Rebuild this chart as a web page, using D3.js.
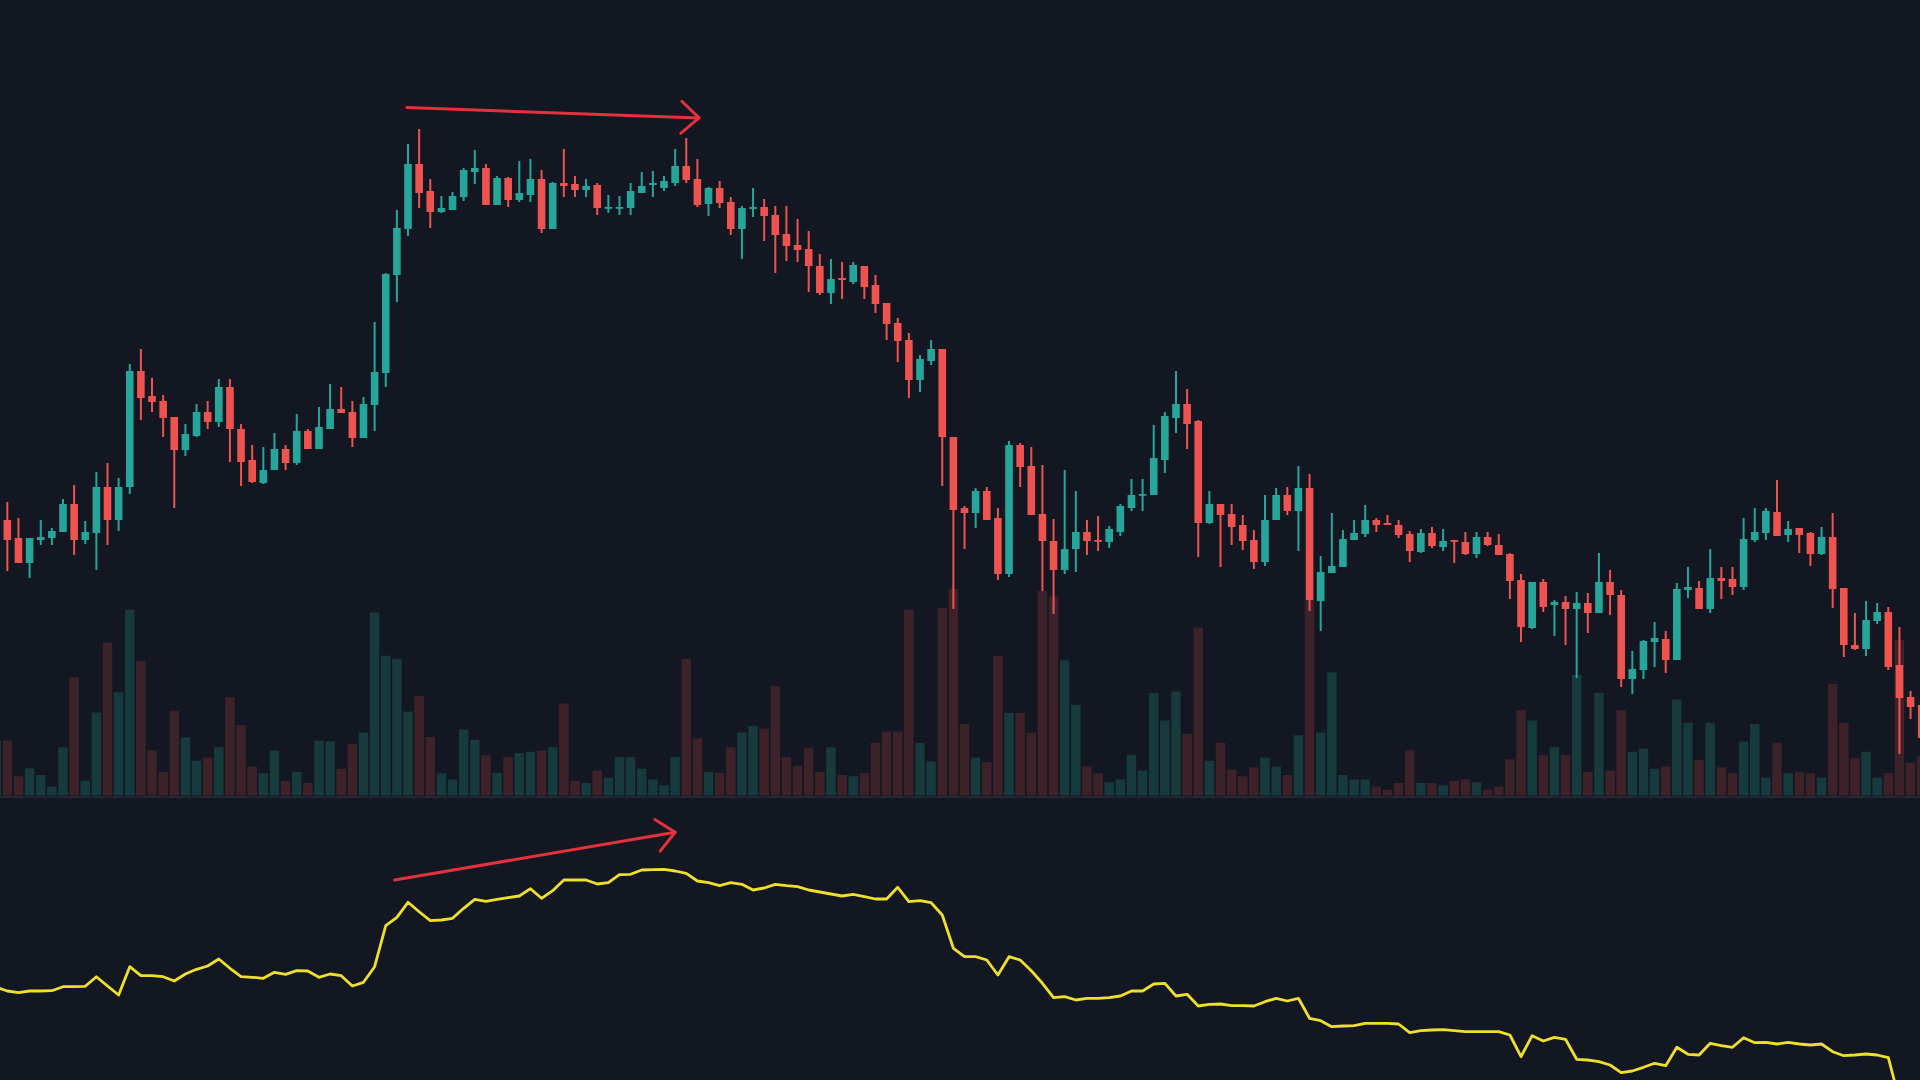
<!DOCTYPE html>
<html><head><meta charset="utf-8">
<script src="https://cdn.jsdelivr.net/npm/d3@7"></script>
<style>html,body{margin:0;padding:0;background:#131722;overflow:hidden}</style>
</head><body>
<svg id="chart" width="1920" height="1080"></svg>
<script>
// ---- data (bar index = categories) ----
const barIndex = d3.range(174);
const open = [
520,560,542,517,540,542,548,576,540,547,
593,560,593,709,684,679,663,630,644,668,
658,693,651,620,597,610,631,617,649,631,
651,671,668,642,675,707,805,851,916,889,
868,870,883,908,912,875,902,880,885,901,
851,897,896,890,895,872,872,872,887,895,
892,897,914,901,876,892,878,851,871,873,
865,846,835,831,814,787,802,798,814,795,
777,757,740,700,719,731,643,572,567,589,
562,506,635,614,566,539,510,531,548,540,
538,548,572,585,585,620,662,676,659,557,
576,566,555,540,518,560,585,569,592,479,
507,513,540,546,560,557,555,546,528,547,
533,540,538,526,543,535,526,500,452,498,
475,478,471,477,467,498,485,401,410,438,
441,420,490,492,471,502,501,493,540,547,
568,545,552,547,526,543,492,435,431,459,
468,415,383,375];
const high = [
565,578,562,542,560,552,581,595,559,608,
617,602,716,731,702,685,663,656,676,679,
701,701,656,635,633,647,635,666,651,673,
696,693,679,683,758,807,870,936,951,901,
884,888,912,930,916,904,903,919,921,910,
898,931,904,901,897,885,884,897,908,909,
904,931,942,921,893,899,883,874,892,881,
874,874,861,849,826,821,818,818,814,805,
777,762,747,725,740,731,643,574,592,593,
572,639,637,633,615,561,610,589,560,564,
554,576,601,601,655,668,709,691,660,589,
576,576,565,550,585,592,593,614,606,524,
567,550,560,575,562,565,560,549,551,553,
551,540,548,548,548,546,527,506,498,501,
480,484,488,487,527,510,490,429,440,458,
449,497,513,499,531,513,513,562,572,572,
600,559,552,548,553,567,492,467,479,477,
473,453,389,380];
const low = [
515,509,517,502,535,535,548,525,536,510,
535,549,586,660,668,643,572,624,643,651,
653,618,594,597,596,610,610,615,631,631,
651,667,633,642,649,693,778,844,872,852,
867,870,879,896,875,875,873,878,878,847,
851,883,883,883,865,867,865,865,887,883,
889,894,897,873,864,872,845,821,863,839,
807,819,818,788,785,776,781,796,781,767,
740,718,682,688,715,594,471,531,552,560,
500,503,593,565,489,466,506,508,525,529,
532,544,569,569,585,607,647,631,523,556,
513,535,530,511,514,560,565,529,469,449,
507,513,540,543,548,555,542,518,527,532,
529,517,525,522,534,525,481,438,451,468,
444,435,402,447,467,465,393,386,401,413,
407,420,482,471,467,481,485,490,538,540,
544,538,527,514,525,472,423,430,424,456,
410,326,361,335];
const close = [
559,540,517,542,543,549,576,540,548,593,
560,593,709,682,678,662,630,646,668,658,
693,651,618,598,610,631,617,649,631,653,
671,667,642,676,708,806,852,916,887,868,
872,884,910,912,875,902,880,887,901,851,
897,894,890,894,872,873,873,889,894,897,
899,914,900,875,892,877,851,872,873,864,
845,834,830,814,787,801,800,815,793,776,
756,739,700,721,731,643,570,567,589,560,
506,635,613,565,539,510,531,548,539,539,
551,574,585,586,622,664,676,656,557,576,
565,553,539,518,560,585,569,592,480,508,
514,541,547,560,555,555,545,529,547,534,
539,539,526,543,535,525,499,453,498,473,
478,471,477,467,498,485,401,411,439,442,
420,491,493,471,502,499,493,541,548,569,
544,551,545,526,543,491,435,431,460,468,
413,382,373,342];
const volume = [
121,123,43,61,46,20,108,265,33,186,
343,231,416,301,101,53,190,130,78,85,
108,220,158,65,50,101,33,53,28,123,
121,60,115,141,410,313,306,188,223,131,
50,36,148,125,90,51,86,95,98,101,
108,206,33,28,56,40,86,86,60,36,
23,86,306,128,53,50,108,141,156,150,
245,86,66,106,53,108,46,43,50,118,
143,143,416,118,76,420,463,160,85,75,
313,185,185,141,458,446,303,203,65,50,
30,36,91,56,230,168,233,138,376,78,
118,58,43,63,85,65,46,135,438,141,
276,46,36,36,20,13,28,101,28,28,
23,33,36,30,13,20,81,191,168,90,
108,91,270,53,230,56,191,98,105,60,
65,215,163,80,163,63,50,121,160,40,
118,50,53,50,40,250,163,83,98,40,
50,348,73,88];
const indicator = [
92.7,89.0,87.3,89.0,89.0,89.3,93.3,93.3,93.7,103.3,
94.0,85.0,113.3,104.3,104.3,103.3,99.0,106.0,110.7,114.0,
121.0,111.7,103.3,102.7,101.7,107.7,105.7,109.3,109.0,102.7,
106.0,104.3,94.0,97.7,113.3,154.3,162.7,177.7,168.3,159.3,
160.0,161.7,171.7,180.7,178.7,180.7,182.3,184.0,191.3,181.7,
189.3,200.0,200.0,200.0,196.0,197.3,205.3,205.7,210.0,210.3,
210.7,209.0,206.7,199.0,197.3,194.3,197.3,195.7,190.0,192.0,
195.7,194.3,193.3,190.0,188.0,186.0,184.0,185.7,183.3,181.0,
181.0,192.7,178.3,179.3,177.3,165.0,131.7,123.3,123.3,120.0,
105.0,123.3,120.0,109.3,96.7,82.3,83.3,80.0,81.7,81.7,
82.3,84.0,89.0,89.0,96.0,96.7,84.0,85.7,74.0,75.7,
76.0,74.3,74.3,74.0,78.3,81.7,79.0,81.7,61.7,59.3,
53.3,54.0,54.3,56.7,56.7,56.7,56.0,47.3,49.3,50.0,
50.3,49.3,48.3,48.3,48.3,48.3,45.0,23.3,44.3,39.0,
42.7,40.7,20.7,20.0,18.3,15.0,7.3,9.0,12.7,16.7,
14.3,32.7,25.7,25.0,36.7,34.3,32.7,42.3,37.3,37.7,
36.0,37.7,36.0,35.0,36.0,28.3,24.3,25.0,26.0,25.0,
22.3,-20,-25,-30];
// annotation arrows: [barIndex, value]
const priceArrow = [[36.9, 972.4], [63.15, 962.1]];
const indicatorArrow = [[35.8, 200], [61.0, 247.7]];

// ---- drawing ----
const W = 1920, H = 1080;
const UP = '#26a69a', DOWN = '#ef5350';
const UPV = '#173a3c', DOWNV = '#3e2229';
const svg = d3.select('#chart');
svg.append('rect').attr('width', W).attr('height', H).attr('fill', '#131722');

const x = d3.scaleLinear().domain([0, 173]).range([-3.8, 1921.7]);
const yP = d3.scaleLinear().domain([0, 1080]).range([1080, 0]);
const yV = d3.scaleLinear().domain([0, 1000]).range([795.5, 349.1]);
const yL = d3.scaleLinear().domain([0, 220]).range([1080, 860]);

const rows = barIndex.map(i => ({i, o: open[i], h: high[i], l: low[i], c: close[i], v: volume[i], up: close[i] >= open[i]}));

// volume
svg.append('g').selectAll('rect').data(rows).join('rect')
  .attr('x', d => x(d.i) - 4.75).attr('width', 9.5)
  .attr('y', d => yV(d.v)).attr('height', d => yV(0) - yV(d.v))
  .attr('fill', d => d.up ? UPV : DOWNV);

// pane separator
svg.append('line').attr('x1', 0).attr('x2', W).attr('y1', yV(0) + 1.5).attr('y2', yV(0) + 1.5)
  .attr('stroke', '#232733').attr('stroke-width', 2);

// candles
const cg = svg.append('g');
cg.selectAll('line').data(rows).join('line')
  .attr('x1', d => x(d.i)).attr('x2', d => x(d.i))
  .attr('y1', d => yP(d.h)).attr('y2', d => yP(d.l))
  .attr('stroke', d => d.up ? UP : DOWN).attr('stroke-width', 2);
cg.selectAll('rect').data(rows).join('rect')
  .attr('x', d => x(d.i) - 3.8).attr('width', 7.6)
  .attr('y', d => yP(Math.max(d.o, d.c)))
  .attr('height', d => Math.max(1.8, Math.abs(yP(d.o) - yP(d.c))))
  .attr('fill', d => d.up ? UP : DOWN);

// indicator line
svg.append('path').datum(barIndex)
  .attr('d', d3.line().x(i => x(i)).y(i => yL(indicator[i])))
  .attr('fill', 'none').attr('stroke', '#efe02b').attr('stroke-width', 2.8)
  .attr('stroke-linejoin', 'round');

// arrows
function arrow(pts, ys) {
  const p0 = [x(pts[0][0]), ys(pts[0][1])], p1 = [x(pts[1][0]), ys(pts[1][1])];
  const ang = Math.atan2(p1[1] - p0[1], p1[0] - p0[0]);
  const a = 42 * Math.PI / 180, len = 24;
  const arm1 = [p1[0] - len * Math.cos(ang - a), p1[1] - len * Math.sin(ang - a)];
  const arm2 = [p1[0] - len * Math.cos(ang + a), p1[1] - len * Math.sin(ang + a)];
  const g = svg.append('g').attr('fill', 'none').attr('stroke', '#e3313d')
    .attr('stroke-width', 3).attr('stroke-linecap', 'round').attr('stroke-linejoin', 'round');
  g.append('path').attr('d', d3.line()([p0, p1]));
  g.append('path').attr('d', d3.line()([arm1, p1, arm2]));
}
arrow(priceArrow, yP);
arrow(indicatorArrow, yL);
</script>
</body></html>
